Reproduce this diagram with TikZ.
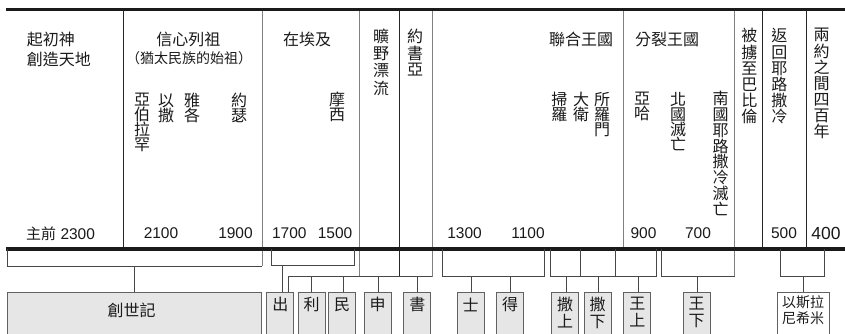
\documentclass[tikz,border=0pt]{standalone}
\usepackage{fontspec}
\newfontfamily\cjk{Noto Sans CJK TC}
\newfontfamily\numfont{Liberation Sans}
\definecolor{ink}{HTML}{1A1A1A}
\definecolor{boxfill}{HTML}{E6E6E6}
\begin{document}
\begin{tikzpicture}[x=1pt,y=-1pt,
  every node/.style={inner sep=0pt, text=ink},
  hz/.style={font=\cjk\fontsize{16}{18}\selectfont},
  hzs/.style={font=\cjk\fontsize{14}{16}\selectfont},
  vt/.style={font=\cjk\fontsize{16}{#1}\selectfont, align=center, anchor=north},
  vt/.default=15.3,
  num/.style={font=\numfont\fontsize{15.5}{18}\selectfont},
  heavy/.style={line width=3.6pt, draw=ink},
  coldark/.style={draw=black!85, line width=1pt},
  colgray/.style={draw=black!50, line width=1pt},
  brk/.style={draw=black!72, line width=1pt},
  bookbox/.style={draw=black!62, fill=boxfill, line width=1pt, anchor=north, minimum height=50pt, minimum width=#1},
  booktxt/.style={font=\cjk\fontsize{16}{17}\selectfont, align=center}
]
\useasboundingbox (0,0) rectangle (845,333);
\fill[white] (0,0) rectangle (845,333);
\clip (0,0) rectangle (845,333);

% column dividers
\draw[coldark] (123.3,9.5) -- (123.3,249);
\draw[colgray] (262,9.5) -- (262,266);
\draw[colgray] (359,9.5) -- (359,276.7);
\draw[coldark] (399.2,9.5) -- (399.2,276.7);
\draw[colgray] (432.3,9.5) -- (432.3,276.7);
\draw[colgray] (623.3,9.5) -- (623.3,249);
\draw[colgray] (734.8,9.5) -- (734.8,276.7);
\draw[coldark] (762.7,9.5) -- (762.7,249);
\draw[coldark] (806.7,9.5) -- (806.7,249);

% thick rules
\draw[heavy] (6,9.5) -- (845,9.5);
\draw[heavy] (6,249.2) -- (845,249.2);

% header texts
\node[hz,anchor=west] (h1a) at (26.7,39) {起初神};
\node[hz,anchor=west] (h1b) at (26.7,59.5) {創造天地};
\node[hz] (h2a) at (188.3,39) {信心列祖};
\node[hzs] (h2b) at (189,58.5) {（猶太民族的始祖）};
\node[hz,anchor=west] (h3) at (283,39) {在埃及};
\node[hz] (h4) at (581,39) {聯合王國};
\node[hz] (h5) at (667,39) {分裂王國};

% vertical names
\node[vt=15] (abr) at (142,93.3) {亞\\伯\\拉\\罕};
\node[vt=15] (isa) at (166,93.3) {以\\撒};
\node[vt=15] (jac) at (192,93.3) {雅\\各};
\node[vt=15] (jos) at (239,93.3) {約\\瑟};
\node[vt=15.5] (mos) at (337,91.7) {摩\\西};
\node[vt=17.4] (wil) at (381,28.3) {曠\\野\\漂\\流};
\node[vt=16.4] (jsh) at (415,29.3) {約\\書\\亞};
\node[vt=15.3] (sau) at (559.3,91.7) {掃\\羅};
\node[vt=15.3] (dav) at (581,91.7) {大\\衛};
\node[vt=15.3] (sol) at (602,91.7) {所\\羅\\門};
\node[vt=15.3] (aha) at (642,91.7) {亞\\哈};
\node[vt=15.2] (nfa) at (678,91.7) {北\\國\\滅\\亡};
\node[vt=15.9] (sfa) at (720.7,90.7) {南\\國\\耶\\路\\撒\\冷\\滅\\亡};
\node[vt=16.2] (exi) at (749.3,28.3) {被\\擄\\至\\巴\\比\\倫};
\node[vt=16.2] (ret) at (779.3,28.3) {返\\回\\耶\\路\\撒\\冷};
\node[vt=16.1] (fhy) at (821.7,28.3) {兩\\約\\之\\間\\四\\百\\年};

% dates
\node[num,anchor=west] (d2300) at (26,233.3) {{\cjk\fontsize{15}{18}\selectfont 主前} 2300};
\node[num] (d2100) at (161,233.3) {2100};
\node[num] (d1900) at (235.5,233.3) {1900};
\node[num] (d1700) at (289.3,233.3) {1700};
\node[num] (d1500) at (335,233.3) {1500};
\node[num] (d1300) at (464.5,233.3) {1300};
\node[num] (d1100) at (528,233.3) {1100};
\node[num] (d900) at (643.5,233.3) {900};
\node[num] (d700) at (698,233.3) {700};
\node[num] (d500) at (784,233.3) {500};
\node[num,font=\numfont\fontsize{17.5}{20}\selectfont] (d400) at (826,233.3) {400};

% book boxes
\node[bookbox=254.7] (gen) at (134.35,291.5) {};
\node[bookbox=27.3] (ex) at (280.3,291.5) {};
\node[bookbox=26.7] (lev) at (311.7,291.5) {};
\node[bookbox=27.2] (nu) at (342.1,291.5) {};
\node[bookbox=26.7] (deu) at (377.7,291.5) {};
\node[bookbox=26.7] (jsb) at (417.3,291.5) {};
\node[bookbox=26.7] (jdg) at (470.7,291.5) {};
\node[bookbox=26.7] (rut) at (510,291.5) {};
\node[bookbox=26.7] (sa1) at (565,291.5) {};
\node[bookbox=26.7] (sa2) at (597.7,291.5) {};
\node[bookbox=26.7] (ki1) at (637.3,291.5) {};
\node[bookbox=26.7] (ki2) at (696.7,291.5) {};
\node[bookbox=51.7,fill=white] (ezr) at (803.2,291.5) {};

\node[booktxt] (tgen) at (131.7,310) {創世記};
\node[booktxt] (tex) at (280.3,304.7) {出};
\node[booktxt] (tlev) at (311.7,304.7) {利};
\node[booktxt] (tnu) at (342.1,304.7) {民};
\node[booktxt] (tdeu) at (377.7,304.7) {申};
\node[booktxt] (tjsb) at (417.3,304.7) {書};
\node[booktxt] (tjdg) at (470.7,304.7) {士};
\node[booktxt] (trut) at (510,304.7) {得};
\node[booktxt] (tsa1) at (565,312.5) {撒\\上};
\node[booktxt] (tsa2) at (597.7,312.5) {撒\\下};
\node[booktxt] (tki1) at (637.3,312.5) {王\\上};
\node[booktxt] (tki2) at (696.7,312.5) {王\\下};
\node[booktxt,font=\cjk\fontsize{14}{16.3}\selectfont] (tezr) at (803.2,310) {以斯拉\\尼希米};

% brackets and stems
\draw[brk] (7,249) -- (7,266) -- (262,266);
\draw[brk] (134.5,266) -- (134.5,266 |- gen.north);

\draw[brk] (271,249) -- (271,265.7) -- (354,265.7) -- (354,249);
\draw[brk] (282.7,265.7) -- (282.7,265.7 |- ex.north);

\draw[brk] (288.3,276.7 |- ex.north) -- (288.3,276.7) -- (432.3,276.7);
\draw[brk] (311.7,276.7) -- (311.7,276.7 |- lev.north);
\draw[brk] (343.3,276.7) -- (343.3,276.7 |- nu.north);
\draw[brk] (378.7,276.7) -- (378.7,276.7 |- deu.north);
\draw[brk] (417.3,276.7) -- (417.3,276.7 |- jsb.north);

\draw[brk] (442.7,249) -- (442.7,276.7) -- (544.3,276.7) -- (544.3,249);
\draw[brk] (471.7,276.7) -- (471.7,276.7 |- jdg.north);
\draw[brk] (510.7,276.7) -- (510.7,276.7 |- rut.north);

\draw[brk] (550.7,249) -- (550.7,276.7) -- (656.3,276.7) -- (656.3,249);
\draw[brk] (580.7,249) -- (580.7,276.7);
\draw[brk] (615,249) -- (615,276.7);
\draw[brk] (566,276.7) -- (566,276.7 |- sa1.north);
\draw[brk] (598.3,276.7) -- (598.3,276.7 |- sa2.north);
\draw[brk] (638.3,276.7) -- (638.3,276.7 |- ki1.north);

\draw[brk] (661.5,249) -- (661.5,276.7) -- (734.8,276.7);
\draw[brk] (697.7,276.7) -- (697.7,276.7 |- ki2.north);

\draw[brk] (780.7,249) -- (780.7,276.7) -- (824,276.7) -- (824,249);
\draw[brk] (803.3,276.7) -- (803.3,276.7 |- ezr.north);
\end{tikzpicture}
\end{document}
